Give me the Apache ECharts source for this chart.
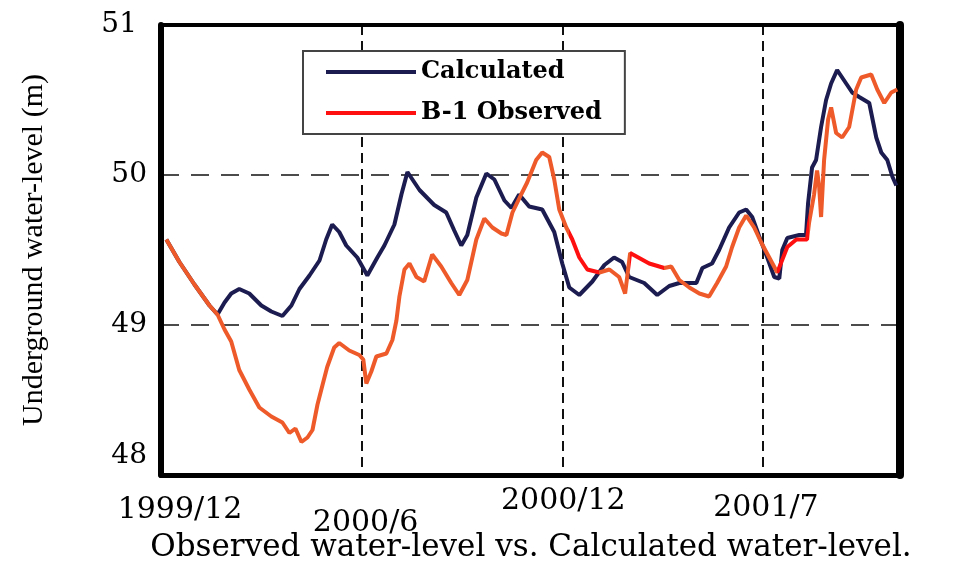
<!DOCTYPE html>
<html><head><meta charset="utf-8">
<script src="https://cdn.jsdelivr.net/npm/echarts@6/dist/echarts.min.js"></script>
<style>html,body{margin:0;padding:0;background:#fff}#c{width:957px;height:566px}</style>
</head><body><div id="c"></div>
<script>
// x in months after 1999/12 (axis position), y in metres
const calcX = [0.16,0.55,1.00,1.45,1.69,1.90,2.10,2.34,2.64,3.00,3.30,3.63,3.90,4.14,4.44,4.74,4.94,5.12,5.33,5.54,5.87,6.17,6.47,6.68,6.98,7.19,7.37,7.73,8.17,8.53,8.77,8.98,9.16,9.43,9.73,9.97,10.27,10.48,10.71,11.01,11.40,11.76,12.00,12.21,12.51,12.90,13.26,13.55,13.79,14.00,14.45,14.84,15.20,15.50,16.01,16.19,16.48,16.69,16.99,17.29,17.50,17.68,17.89,18.13,18.34,18.49,18.58,18.73,19.09,19.29,19.35,19.47,19.59,19.74,19.89,20.04,20.22,20.49,20.67,20.88,21.18,21.39,21.54,21.72,21.87,21.99];
const calcY = [49.57,49.42,49.27,49.13,49.07,49.15,49.21,49.24,49.21,49.13,49.09,49.06,49.13,49.24,49.33,49.43,49.57,49.67,49.62,49.53,49.45,49.33,49.45,49.53,49.67,49.87,50.02,49.90,49.80,49.75,49.63,49.53,49.60,49.85,50.01,49.97,49.83,49.78,49.87,49.79,49.77,49.62,49.41,49.25,49.20,49.29,49.40,49.45,49.42,49.32,49.28,49.20,49.26,49.28,49.28,49.38,49.41,49.50,49.65,49.75,49.77,49.72,49.59,49.45,49.32,49.31,49.50,49.58,49.60,49.60,49.81,50.05,50.10,50.32,50.50,50.61,50.70,50.61,50.55,50.52,50.48,50.25,50.15,50.10,49.99,49.93];
const obsX = [0.16,0.55,1.00,1.45,1.69,1.90,2.10,2.34,2.64,2.94,3.30,3.63,3.84,4.02,4.20,4.38,4.53,4.68,4.83,4.97,5.18,5.33,5.63,5.93,6.05,6.14,6.29,6.44,6.74,6.92,7.04,7.13,7.28,7.43,7.64,7.87,8.11,8.38,8.68,8.92,9.16,9.43,9.67,9.91,10.18,10.33,10.51,10.77,10.95,11.22,11.40,11.61,11.76,11.91,12.12,12.30,12.51,12.75,13.11,13.41,13.70,13.88,14.03,14.60,15.05,15.26,15.50,15.80,16.10,16.39,16.63,16.90,17.08,17.29,17.50,17.74,17.95,18.19,18.43,18.73,19.00,19.32,19.38,19.53,19.62,19.68,19.74,19.83,19.95,20.04,20.19,20.37,20.58,20.79,20.94,21.24,21.42,21.63,21.84,22.02];
const obsY = [49.57,49.42,49.27,49.13,49.07,48.97,48.89,48.70,48.57,48.45,48.39,48.35,48.28,48.31,48.22,48.25,48.30,48.47,48.60,48.72,48.85,48.88,48.83,48.80,48.77,48.61,48.69,48.79,48.81,48.90,49.03,49.19,49.37,49.41,49.32,49.29,49.47,49.39,49.28,49.20,49.30,49.57,49.71,49.65,49.61,49.60,49.75,49.87,49.95,50.10,50.15,50.12,49.97,49.77,49.65,49.57,49.45,49.37,49.35,49.37,49.32,49.21,49.48,49.41,49.38,49.39,49.30,49.25,49.21,49.19,49.28,49.39,49.52,49.65,49.73,49.65,49.55,49.45,49.35,49.52,49.57,49.57,49.68,49.87,50.03,49.93,49.72,50.10,50.37,50.45,50.28,50.25,50.32,50.57,50.65,50.67,50.57,50.48,50.55,50.57];
// stretches of the observed record drawn in bright red
const redRanges = [[12.2,13.1],[14.03,15.05],[18.43,19.38]];
const tickValues = [0,6,12,18];
const tickLabels = ['1999/12','2000/6','2000/12','2001/7'];
const yTicks = [48,49,50,51];
const seriesNames = ['Calculated','B-1 Observed'];
const titleText = 'Observed water-level vs. Calculated water-level.';
const yName = 'Underground water-level (m)';

const CALC = '#1c1c50', OBS = '#ee5a2a', RED = '#ff1010';
const pieces = [];
let last = -100;
redRanges.forEach(r => { pieces.push({gte:last, lt:r[0], color:OBS}); pieces.push({gte:r[0], lt:r[1], color:RED}); last = r[1]; });
pieces.push({gte:last, lte:100, color:OBS});

const serif = 'DejaVu Serif';
const richX = ['a','b','c','d'];
const chart = echarts.init(document.getElementById('c'));
chart.setOption({
  animation:false,
  backgroundColor:'#fff',
  title:{text:titleText, left:531, top:532, textAlign:'center', padding:0,
    textStyle:{fontFamily:serif, fontSize:31, fontWeight:'normal', color:'#000'}},
  legend:{
    orient:'vertical', left:303, top:51, padding:[8,23,8,23],
    backgroundColor:'#fff', borderColor:'#444', borderWidth:2,
    itemWidth:90, itemHeight:4, icon:'rect', itemGap:15,
    textStyle:{fontFamily:serif, fontWeight:'bold', fontSize:24, color:'#000', lineHeight:26},
    data:[{name:seriesNames[0], itemStyle:{color:CALC}}, {name:seriesNames[1], itemStyle:{color:RED}}]
  },
  grid:{left:161, right:57, top:25, bottom:91, containLabel:false},
  xAxis:[{
    type:'value', min:0, max:22.1, interval:6,
    axisLine:{show:true, onZero:false, lineStyle:{color:'#000', width:5}},
    axisTick:{show:false},
    splitLine:{show:true, lineStyle:{color:'#111', width:2, type:[10,6]}},
    axisLabel:{margin:11, showMinLabel:true, showMaxLabel:false,
      formatter:v => { const i = tickValues.indexOf(v); return i<0 ? '' : '{'+richX[i]+'|'+tickLabels[i]+'}'; },
      rich:{
        a:{fontFamily:serif, fontSize:30, color:'#000', padding:[9,0,0,38]},
        b:{fontFamily:serif, fontSize:30, color:'#000', padding:[22,0,0,8]},
        c:{fontFamily:serif, fontSize:30, color:'#000', padding:[0,0,0,2]},
        d:{fontFamily:serif, fontSize:30, color:'#000', padding:[7,0,0,6]}
      }}
  },{
    type:'value', position:'top', min:0, max:22.1,
    axisLine:{show:true, onZero:false, lineStyle:{color:'#000', width:4}},
    axisTick:{show:false}, axisLabel:{show:false}, splitLine:{show:false}
  }],
  yAxis:[{
    type:'value', min:48, max:51, interval:1,
    name:yName, nameLocation:'middle', nameGap:112, nameRotate:90,
    nameTextStyle:{fontFamily:'Liberation Serif', fontSize:30, color:'#000'},
    axisLine:{show:true, onZero:false, lineStyle:{color:'#000', width:6}},
    axisTick:{show:false},
    splitLine:{show:true, lineStyle:{color:'#111', width:1.5, type:[18,12]}},
    axisLabel:{margin:14,
      formatter:v => v===48 ? '{l|48}' : (v===51 ? '{t|51}' : '{n|'+v+'}'),
      rich:{
        n:{fontFamily:serif, fontSize:28, color:'#000'},
        l:{fontFamily:serif, fontSize:28, color:'#000', padding:[0,0,38,0]},
        t:{fontFamily:serif, fontSize:28, color:'#000', padding:[0,10,0,0]}
      }}
  },{
    type:'value', position:'right', min:48, max:51, interval:1,
    axisLine:{show:true, onZero:false, lineStyle:{color:'#000', width:8}},
    axisTick:{show:false}, axisLabel:{show:false}, splitLine:{show:false}
  }],
  visualMap:{show:false, type:'piecewise', seriesIndex:1, dimension:0, pieces:pieces},
  series:[
    {name:seriesNames[0], type:'line', showSymbol:false, symbol:'none', clip:true,
     lineStyle:{color:CALC, width:4}, itemStyle:{color:CALC},
     data:calcX.map((x,i)=>[x, calcY[i]])},
    {name:seriesNames[1], type:'line', showSymbol:false, symbol:'none', clip:true,
     lineStyle:{width:4}, itemStyle:{color:OBS},
     data:obsX.map((x,i)=>[x, obsY[i]])}
  ]
});
</script></body></html>
